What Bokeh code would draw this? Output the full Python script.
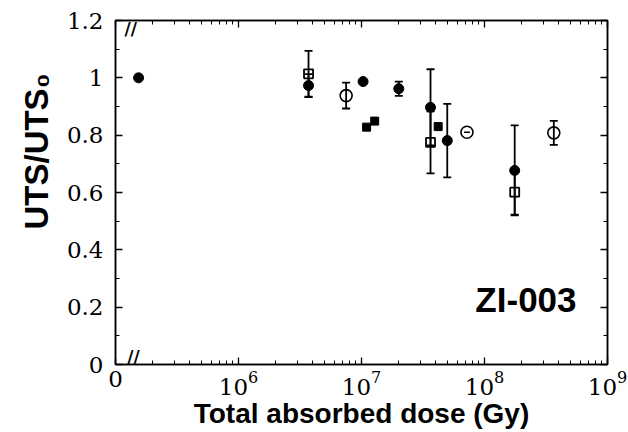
from bokeh.plotting import figure
from bokeh.models import (FixedTicker, LogAxis, LinearAxis, Whisker, TeeHead,
                          ColumnDataSource, Label, Range1d, Title)
from bokeh.embed import file_html
from bokeh.resources import INLINE

# ---- data ----
# filled circles
fc_x = [1.54e5, 3.71e6, 1.03e7, 2.01e7, 3.64e7, 4.98e7, 1.76e8]
fc_y = [1.00, 0.973, 0.987, 0.962, 0.897, 0.781, 0.677]
fc_err = [0.0, 0.04, 0.0, 0.025, 0.133, 0.128, 0.157]
# open squares
os_x = [3.71e6, 3.64e7, 1.76e8]
os_y = [1.014, 0.775, 0.601]
os_err = [0.08, 0.108, 0.078]
# filled squares
fs_x = [1.10e7, 1.28e7, 4.20e7]
fs_y = [0.828, 0.849, 0.830]
# open circles (with error bars)
oc_x = [7.5e6, 3.66e8]
oc_y = [0.938, 0.808]
oc_err = [0.045, 0.042]
# open circle with dash
od_x = [7.2e7]
od_y = [0.810]

x_ticks = [1e5, 1e6, 1e7, 1e8, 1e9]
x_minor = [m * 10 ** d for d in range(5, 9) for m in range(2, 10)]
y_ticks = [0, 0.2, 0.4, 0.6, 0.8, 1.0, 1.2]
y_minor = [0.1, 0.3, 0.5, 0.7, 0.9, 1.1]
y_labels = {0: "0", 0.2: "0.2", 0.4: "0.4", 0.6: "0.6", 0.8: "0.8", 1.0: "1", 1.2: "1.2"}

TICK_FONT = "DejaVu Serif"
LABEL_FONT = "Liberation Sans"

p = figure(width=628, height=432, x_axis_type="log",
           x_range=Range1d(1e5, 1e9), y_range=Range1d(0, 1.2),
           output_backend="svg", toolbar_location=None,
           min_border_left=115, min_border_right=21,
           min_border_top=20, min_border_bottom=68)
p.grid.visible = False
p.outline_line_color = "black"
p.outline_line_width = 1.5
p.background_fill_color = "white"
p.border_fill_color = "white"


def style_axis(ax, labels=True):
    ax.axis_line_color = "black"
    ax.axis_line_width = 1.5
    ax.major_tick_in = 7
    ax.major_tick_out = 0
    ax.minor_tick_in = 4
    ax.minor_tick_out = 0
    ax.major_tick_line_width = 1.3
    ax.minor_tick_line_width = 1
    ax.major_tick_line_color = "black"
    ax.minor_tick_line_color = "black"
    if labels:
        ax.major_label_text_font = TICK_FONT
        ax.major_label_text_font_size = "23px"
        ax.major_label_text_color = "black"
    else:
        ax.major_label_text_font_size = "1px"
        ax.major_label_text_color = None
        ax.major_label_standoff = 0


xa = p.xaxis[0]
xa.ticker = FixedTicker(ticks=x_ticks, minor_ticks=x_minor)
xa.major_label_overrides = {1e5: "0"}
style_axis(xa)
xa.major_label_standoff = 6
xa.axis_label = "Total absorbed dose (Gy)"
xa.axis_label_text_font = LABEL_FONT
xa.axis_label_text_font_style = "bold"
xa.axis_label_text_font_size = "28px"
xa.axis_label_text_color = "black"
xa.axis_label_standoff = 0

ya = p.yaxis[0]
ya.ticker = FixedTicker(ticks=y_ticks, minor_ticks=y_minor)
ya.major_label_overrides = y_labels
style_axis(ya)
ya.major_label_standoff = 12

top = LogAxis(ticker=FixedTicker(ticks=x_ticks, minor_ticks=x_minor))
style_axis(top, labels=False)
p.add_layout(top, "above")
right = LinearAxis(ticker=FixedTicker(ticks=y_ticks, minor_ticks=y_minor))
style_axis(right, labels=False)
p.add_layout(right, "right")

# y-axis title, anchored near the top of the frame as in the source
p.add_layout(Title(text="UTS/UTS₀", align="right", offset=53, standoff=18,
                   text_font=LABEL_FONT, text_font_style="bold",
                   text_font_size="33px", text_color="black"), "left")

# ---- error bars ----
def add_err(xs, ys, errs):
    src = ColumnDataSource(dict(x=[x for x, e in zip(xs, errs) if e > 0],
                                up=[y + e for y, e in zip(ys, errs) if e > 0],
                                lo=[y - e for y, e in zip(ys, errs) if e > 0]))
    w = Whisker(source=src, base="x", upper="up", lower="lo", dimension="height",
                line_color="black", line_width=1.8,
                upper_head=TeeHead(size=8, line_width=1.8, line_color="black"),
                lower_head=TeeHead(size=8, line_width=1.8, line_color="black"))
    p.add_layout(w)

add_err(fc_x, fc_y, fc_err)
add_err(os_x, os_y, os_err)
add_err(oc_x, oc_y, oc_err)

# ---- markers ----
p.scatter(fc_x, fc_y, marker="circle", size=10, fill_color="black", line_color="black")
p.scatter(fs_x, fs_y, marker="square", size=8, fill_color="black", line_color="black")
p.scatter(os_x, os_y, marker="square", size=9, fill_alpha=0, line_color="black", line_width=1.8)
p.scatter(oc_x, oc_y, marker="circle", size=12, fill_alpha=0, line_color="black", line_width=1.6)
p.scatter(od_x, od_y, marker="circle", size=12, fill_alpha=0, line_color="black", line_width=1.6)
p.scatter(od_x, od_y, marker="dash", size=6, line_color="black", line_width=1.6)

# ---- axis break marks (kept just inside the frame) ----
p.add_layout(Label(x=1.33e5, y=1.2, text="//", text_align="center", text_baseline="top",
                   text_font="DejaVu Sans", text_font_style="bold", text_font_size="17px",
                   text_color="black", y_offset=2))
p.add_layout(Label(x=1.40e5, y=0.0, text="//", text_align="center", text_baseline="bottom",
                   text_font="DejaVu Sans", text_font_style="bold", text_font_size="17px",
                   text_color="black", y_offset=-2))

# ---- sample name ----
p.add_layout(Label(x=5.6e8, y=0.227, text="ZI-003", text_align="right",
                   text_baseline="alphabetic", text_font=LABEL_FONT,
                   text_font_style="bold", text_font_size="35px", text_color="black"))

open("out.html", "w").write(file_html(p, INLINE))
